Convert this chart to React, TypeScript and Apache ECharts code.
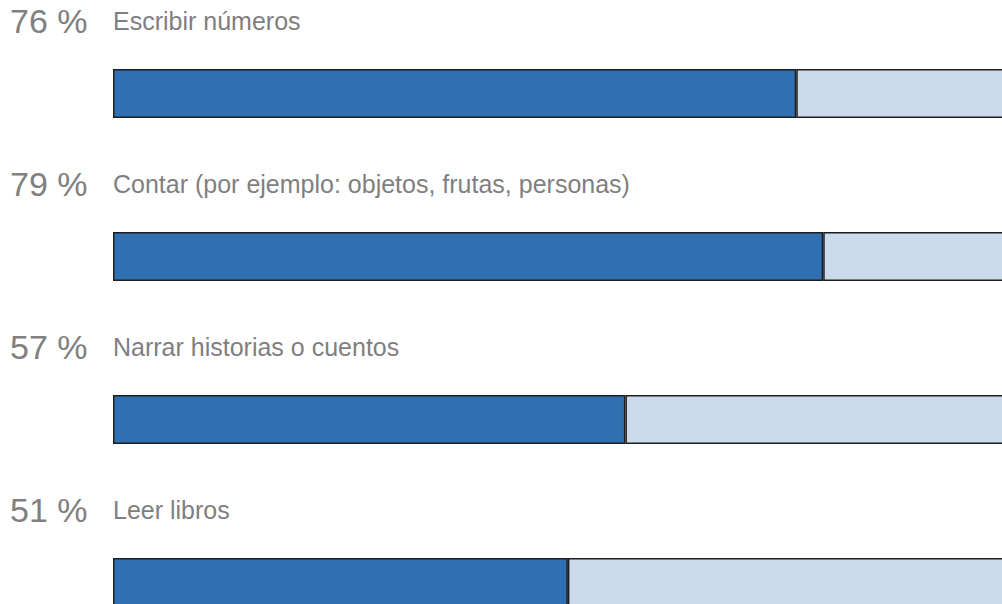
import React, { useEffect, useRef } from "react";
import * as echarts from "echarts";

const categories = [
  "Escribir números",
  "Contar (por ejemplo: objetos, frutas, personas)",
  "Narrar historias o cuentos",
  "Leer libros",
];
const values = [76, 79, 57, 50.6];
const rest = values.map((v) => 100 - v);

export default function App() {
  const ref = useRef<HTMLDivElement>(null);
  useEffect(() => {
    if (!ref.current) return;
    const chart = echarts.init(ref.current, null, { renderer: "svg" });
    chart.setOption({
      animation: false,
      grid: { left: 113, top: 12, width: 899, height: 652, containLabel: false },
      xAxis: { type: "value", min: 0, max: 100, show: false },
      yAxis: { type: "category", data: categories, inverse: true, show: false },
      series: [
        {
          type: "bar",
          stack: "s",
          barWidth: 49,
          data: values,
          itemStyle: { color: "#3070b0", borderColor: "#1e1e1e", borderWidth: 1.5 },
          label: {
            show: true,
            position: [-103, -48],
            align: "left",
            verticalAlign: "middle",
            formatter: (p: any) =>
              `{p|${Math.round(p.value)} %}{c|${categories[p.dataIndex]}}`,
            rich: {
              p: {
                width: 103,
                fontSize: 34,
                color: "#808080",
                fontFamily: "Liberation Sans, Arial, sans-serif",
                verticalAlign: "middle",
              },
              c: {
                fontSize: 25,
                color: "#7f7f7f",
                fontFamily: "Liberation Sans, Arial, sans-serif",
                verticalAlign: "middle",
              },
            },
          },
        },
        {
          type: "bar",
          stack: "s",
          barWidth: 49,
          data: rest,
          itemStyle: { color: "#cbdbeb", borderColor: "#1e1e1e", borderWidth: 1.5 },
        },
      ],
    });
    return () => chart.dispose();
  }, []);
  return (
    <div
      style={{
        position: "absolute",
        left: 0,
        top: 0,
        width: 1002,
        height: 604,
        overflow: "hidden",
        background: "#fff",
      }}
    >
      <div ref={ref} style={{ width: 1040, height: 680 }} />
    </div>
  );
}
